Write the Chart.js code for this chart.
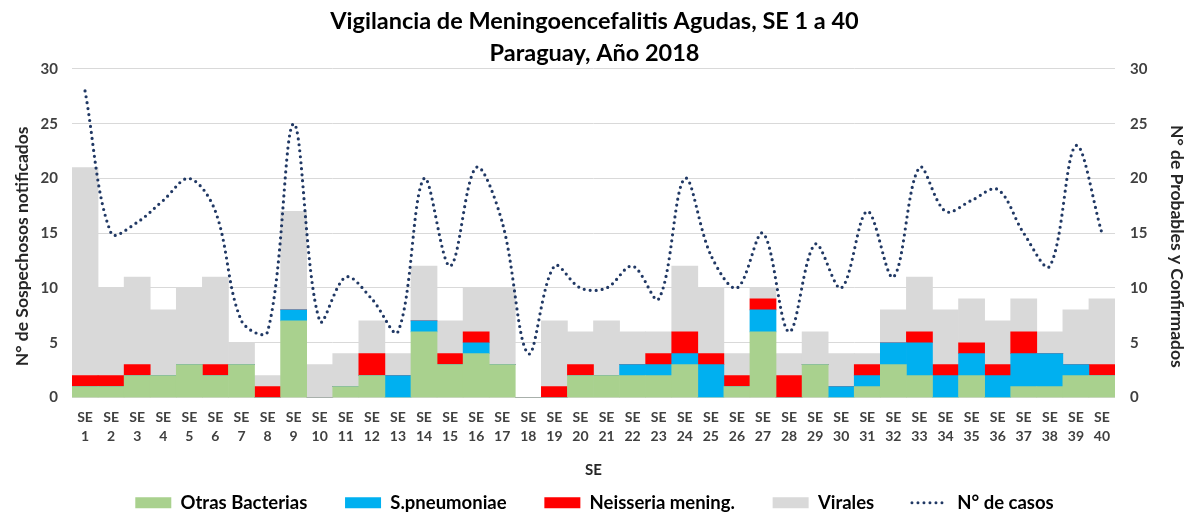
<!DOCTYPE html>
<html>
<head>
<meta charset="utf-8">
<script src="https://cdn.jsdelivr.net/npm/chart.js@4.4.1/dist/chart.umd.min.js"></script>
<style>
  html, body { margin: 0; padding: 0; background: #ffffff; }
  #wrap { width: 1189px; height: 512px; position: relative; }
</style>
</head>
<body>
<div id="wrap"><canvas id="c" width="1189" height="512"></canvas></div>
<script>
const weeks = ["1","2","3","4","5","6","7","8","9","10","11","12","13","14","15","16","17","18","19","20",
               "21","22","23","24","25","26","27","28","29","30","31","32","33","34","35","36","37","38","39","40"];
const otrasBacterias = [1,1,2,2,3,2,3,0,7,0,1,2,0,6,3,4,3,0,0,2,2,2,2,3,0,1,6,0,3,0,1,3,2,0,2,0,1,1,2,2];
const sPneumoniae    = [0,0,0,0,0,0,0,0,1,0,0,0,2,1,0,1,0,0,0,0,0,1,1,1,3,0,2,0,0,1,1,2,3,2,2,2,3,3,1,0];
const neisseria      = [1,1,1,0,0,1,0,1,0,0,0,2,0,0,1,1,0,0,1,1,0,0,1,2,1,1,1,2,0,0,1,0,1,1,1,1,2,0,0,1];
const virales        = [19,8,8,6,7,8,2,1,9,3,3,3,2,5,3,4,7,0,6,3,5,3,2,6,6,2,1,2,3,3,1,3,5,5,4,4,3,2,5,6];
const nCasos         = [28,15,16,18,20,17,7,6,25,7,11,9,6,20,12,21,16,4,12,10,10,12,9,20,13,10,15,6,14,10,17,11,21,17,18,19,15,12,23,15];
const titleLines = ["Vigilancia de Meningoencefalitis Agudas, SE 1 a 40", "Paraguay, Año 2018"];
const seriesNames = ["Otras Bacterias", "S.pneumoniae", "Neisseria mening.", "Virales", "N° de casos"];
const axisTitleLeft = "N° de Sospechosos notificados";
const axisTitleRight = "N° de Probables y Confirmados";
const axisTitleX = "SE";

const FONT = "Lato";
const labels = weeks.map(w => ["SE", w]);

function barSet(label, data, color) {
  return {
    type: 'bar', label, data, backgroundColor: color, borderWidth: 0,
    yAxisID: 'y1', order: 1, barPercentage: 1.0, categoryPercentage: 1.0,
    stack: 's'
  };
}

new Chart(document.getElementById('c'), {
  data: {
    labels,
    datasets: [
      barSet(seriesNames[0], otrasBacterias, '#A9D18E'),
      barSet(seriesNames[1], sPneumoniae, '#00B0F0'),
      barSet(seriesNames[2], neisseria, '#FF0000'),
      barSet(seriesNames[3], virales, '#D9D9D9'),
      {
        type: 'line', label: seriesNames[4], data: nCasos, yAxisID: 'y', order: 0,
        borderColor: '#203864', backgroundColor: '#203864', borderWidth: 3.2,
        borderDash: [0, 6], borderCapStyle: 'round', tension: 0.35,
        pointRadius: 0, fill: false
      }
    ]
  },
  options: {
    responsive: false,
    animation: false,
    devicePixelRatio: 1,
    layout: { padding: { left: 0, right: 0, top: 0, bottom: -10 } },
    plugins: {
      tooltip: { enabled: false },
      title: {
        display: true, text: titleLines, color: '#000000',
        font: { family: FONT, size: 23.5, weight: 'bold', lineHeight: 1.34 },
        padding: { top: 6, bottom: 0 }
      },
      legend: {
        position: 'bottom',
        labels: {
          usePointStyle: true, pointStyleWidth: 36, boxWidth: 36, boxHeight: 11,
          padding: 10, color: '#000000',
          font: { family: FONT, size: 18.5, weight: 'bold' },
          generateLabels: (chart) => {
            const items = Chart.defaults.plugins.legend.labels.generateLabels(chart);
            items.sort((a, b) => a.datasetIndex - b.datasetIndex);
            return items.map((it) => {
              if (it.datasetIndex === 4) {
                it.pointStyle = 'line';
                it.lineWidth = 3;
                it.lineDash = [0, 6];
                it.lineCap = 'round';
                it.strokeStyle = '#203864';
              } else {
                it.pointStyle = 'rect';
                it.lineWidth = 0;
                it.text = it.text + '\u2003\u2003';
              }
              return it;
            });
          }
        }
      }
    },
    scales: {
      x: {
        stacked: true,
        grid: { display: false, drawTicks: false },
        border: { display: false },
        ticks: {
          color: '#404040', padding: 11, maxRotation: 0, autoSkip: false,
          font: { family: FONT, size: 14, weight: 'bold', lineHeight: 1.35 }
        },
        title: {
          display: true, text: axisTitleX, color: '#262626',
          font: { family: FONT, size: 15, weight: 'bold' },
          padding: { top: 14, bottom: 4 }
        },
        afterFit: (s) => { s.height = 86; }
      },
      y: {
        position: 'left', min: 0, max: 30,
        grid: { color: '#D9D9D9', lineWidth: 1, drawTicks: false },
        border: { display: false },
        ticks: {
          stepSize: 5, padding: 14, color: '#404040',
          font: { family: FONT, size: 15, weight: 'bold' }
        },
        title: {
          display: true, text: axisTitleLeft + '\u2003\u2003', color: '#262626',
          font: { family: FONT, size: 17.5, weight: 'bold' },
          padding: { top: 12, bottom: 2 }
        },
        afterFit: (s) => { s.width = 72; }
      },
      y1: {
        position: 'right', min: 0, max: 30, stacked: true,
        grid: { display: false, drawTicks: false },
        border: { display: false },
        ticks: {
          stepSize: 5, padding: 15, color: '#404040',
          font: { family: FONT, size: 15, weight: 'bold' }
        },
        title: {
          display: true, text: '\u2003\u2003' + axisTitleRight, color: '#262626',
          font: { family: FONT, size: 17.5, weight: 'bold' },
          padding: { top: 2, bottom: 2 }
        },
        afterFit: (s) => { s.width = 74; }
      }
    }
  }
});
</script>
</body>
</html>
